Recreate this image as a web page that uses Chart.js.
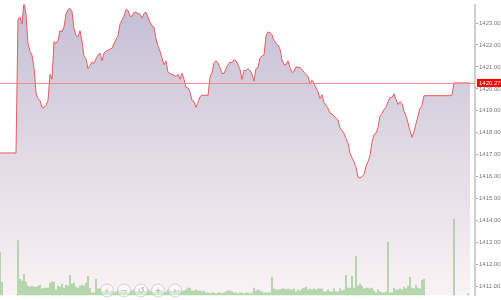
<!DOCTYPE html>
<html>
<head>
<meta charset="utf-8">
<script src="https://cdn.jsdelivr.net/npm/chart.js@4"></script>
<style>
  html, body { margin: 0; padding: 0; background: #fff; }
  #wrap { width: 501px; height: 300px; position: relative; }
</style>
</head>
<body>
<div id="wrap"><canvas id="chart"></canvas></div>
<script>
// one point per minute, index 0..235
const price = [
  1417.08,1417.08,1417.08,1417.08,1417.08,1417.08,1417.08,1417.08,1417.08,1423.18,
  1423.27,1422.96,1423.97,1423.40,1422.07,1421.72,1421.54,1420.97,1419.82,1419.56,
  1419.47,1419.16,1419.14,1419.25,1419.47,1420.66,1420.44,1422.16,1422.07,1422.21,
  1422.65,1422.60,1422.82,1423.40,1423.62,1423.66,1423.53,1422.74,1422.43,1422.38,
  1422.65,1422.16,1421.50,1421.37,1420.92,1421.06,1421.23,1421.15,1421.37,1421.54,
  1421.63,1421.28,1421.63,1421.72,1421.76,1421.81,1421.85,1422.07,1422.25,1422.43,
  1422.96,1423.13,1423.31,1423.62,1423.57,1423.31,1423.31,1423.49,1423.49,1423.44,
  1423.40,1423.22,1423.44,1423.49,1423.27,1423.04,1422.87,1422.82,1422.29,1421.94,
  1421.72,1421.41,1421.10,1421.28,1420.75,1420.70,1420.66,1420.62,1420.57,1420.66,
  1420.44,1420.70,1420.44,1420.08,1420.04,1419.86,1419.47,1419.42,1419.16,1419.38,
  1419.64,1419.73,1419.69,1419.73,1419.69,1420.53,1420.75,1421.19,1421.28,1421.19,
  1420.97,1420.70,1420.70,1420.92,1421.10,1421.23,1421.19,1421.32,1421.28,1421.10,
  1420.88,1420.44,1420.84,1420.84,1420.92,1420.84,1420.66,1420.35,1420.92,1420.97,
  1421.41,1421.50,1421.54,1422.43,1422.60,1422.56,1422.47,1422.21,1422.07,1421.99,
  1421.81,1421.32,1421.10,1421.10,1421.28,1420.97,1420.75,1420.79,1421.01,1420.97,
  1420.97,1420.88,1420.75,1420.66,1420.57,1420.22,1420.39,1420.26,1420.04,1419.86,
  1419.56,1419.73,1419.38,1419.25,1419.11,1418.89,1418.85,1418.76,1418.67,1418.58,
  1418.23,1418.10,1417.97,1417.75,1417.52,1417.08,1416.86,1416.68,1416.42,1415.98,
  1415.93,1415.98,1416.11,1416.46,1416.68,1416.95,1417.57,1417.92,1417.97,1418.23,
  1418.76,1418.89,1419.07,1419.16,1419.42,1419.60,1419.60,1419.78,1419.51,1419.29,
  1419.42,1419.33,1418.98,1418.76,1418.45,1418.10,1417.79,1418.05,1418.41,1418.76,
  1419.11,1419.25,1419.69,1419.69,1419.69,1419.69,1419.69,1419.69,1419.69,1419.69,
  1419.69,1419.69,1419.69,1419.69,1419.69,1419.69,1419.73,1420.27,1420.27,1420.27,
  1420.27,1420.27,1420.27,1420.27,1420.27,1420.27
];

const volume = [
  450,140,null,null,null,null,null,null,null,570,
  170,150,220,140,100,90,100,90,90,100,
  110,70,80,80,80,130,140,140,60,100,
  90,120,80,110,100,210,120,130,90,80,
  100,110,100,130,200,80,30,30,170,70,
  70,50,40,60,50,40,50,30,40,60,
  50,40,40,50,30,40,50,60,40,50,
  40,30,50,40,60,50,40,30,40,50,
  40,50,30,40,60,50,40,50,50,60,
  50,40,50,60,80,80,50,50,60,50,
  50,40,50,30,30,20,30,30,20,30,
  30,20,30,40,50,50,40,30,30,20,
  30,30,20,30,30,20,30,80,50,60,
  50,40,30,30,30,30,190,70,60,60,
  60,70,70,60,70,60,60,70,40,60,
  50,70,80,90,60,70,60,70,60,70,
  70,70,40,40,60,40,40,70,40,40,
  70,50,60,210,80,80,200,80,410,100,
  120,100,70,80,80,70,80,50,30,60,
  40,30,30,40,550,30,30,80,60,60,
  70,60,90,70,100,190,80,70,110,80,
  70,160,170,null,null,null,null,null,null,null,
  null,null,null,null,null,null,null,790,null,null,
  null,null,null,null,20,null
];

const yTicks = [1411, 1412, 1413, 1414, 1415, 1416, 1417, 1418, 1419, 1420, 1421, 1422, 1423];
const lastPrice = 1420.27;

const priceData = price.map((v, i) => ({ x: i, y: v }));
const volData = volume.map((v, i) => ({ x: i, y: v }));

const lastLine = {
  id: 'lastLine',
  afterDatasetsDraw(chart) {
    const { ctx, chartArea: a, scales: { y } } = chart;
    const py = Math.round(y.getPixelForValue(lastPrice)) + 0.5;
    ctx.save();
    ctx.strokeStyle = '#f08c8c';
    ctx.lineWidth = 1;
    ctx.beginPath();
    ctx.moveTo(a.left, py);
    ctx.lineTo(a.right, py);
    ctx.stroke();
    ctx.restore();
  },
  afterDraw(chart) {
    const { ctx, chartArea: a, scales: { y } } = chart;
    const py = y.getPixelForValue(lastPrice);
    ctx.save();
    ctx.fillStyle = '#ff0000';
    ctx.fillRect(a.right + 2, py - 4, chart.width - a.right - 2, 8);
    ctx.fillStyle = '#fff';
    ctx.font = '6px "Liberation Sans", Arial, sans-serif';
    ctx.textBaseline = 'middle';
    ctx.fillText(lastPrice.toFixed(2), a.right + 4, py + 0.5);

    // navigator buttons
    const btns = ['‹', '−', '↺', '+', '›'];
    btns.forEach((t, k) => {
      const cx = 107 + k * 17, cy = 290.5;
      ctx.beginPath();
      ctx.arc(cx, cy, 6.5, 0, Math.PI * 2);
      ctx.fillStyle = 'rgba(255,255,255,0.45)';
      ctx.fill();
      ctx.strokeStyle = 'rgba(200,200,200,0.8)';
      ctx.lineWidth = 1;
      ctx.stroke();
      ctx.fillStyle = '#b0b0b0';
      ctx.font = '8px "DejaVu Sans", sans-serif';
      ctx.textAlign = 'center';
      ctx.textBaseline = 'middle';
      ctx.fillText(t, cx, cy);
    });
    ctx.restore();
  }
};

new Chart(document.getElementById('chart'), {
  data: {
    datasets: [
      {
        type: 'line',
        data: priceData,
        yAxisID: 'y',
        order: 1,
        borderColor: '#f05a5a',
        borderWidth: 1,
        pointRadius: 0,
        tension: 0,
        fill: 'start',
        backgroundColor: ctx => {
          const a = ctx.chart.chartArea;
          if (!a) return 'transparent';
          const g = ctx.chart.ctx.createLinearGradient(0, a.top, 0, a.bottom);
          g.addColorStop(0, '#c3bfd5');
          g.addColorStop(0.5, '#e1d9e4');
          g.addColorStop(1, '#fbf2f5');
          return g;
        }
      },
      {
        type: 'bar',
        data: volData,
        yAxisID: 'vol',
        order: 0,
        backgroundColor: 'rgba(135,196,125,0.75)',
        borderWidth: 0,
        categoryPercentage: 0.8,
        barPercentage: 1
      }
    ]
  },
  options: {
    responsive: true,
    maintainAspectRatio: false,
    animation: false,
    layout: { padding: 0 },
    plugins: { legend: { display: false }, tooltip: { enabled: false } },
    scales: {
      x: { type: 'linear', min: 0, max: 237.5, offset: false, display: false },
      y: {
        position: 'right',
        min: 1410.59,
        max: 1423.84,
        afterFit: s => { s.width = 26; },
        afterBuildTicks: s => { s.ticks = yTicks.map(v => ({ value: v })); },
        ticks: {
          color: '#777',
          padding: 1,
          font: { size: 6, family: '"Liberation Sans", Arial, sans-serif' },
          callback: v => Number(v).toFixed(2)
        },
        grid: { drawOnChartArea: false, tickLength: 3, tickColor: '#aaa' },
        border: { display: true, color: '#cfcfcf', width: 2 }
      },
      vol: { display: false, min: 0, max: 3000 }
    }
  },
  plugins: [lastLine]
});
</script>
</body>
</html>
